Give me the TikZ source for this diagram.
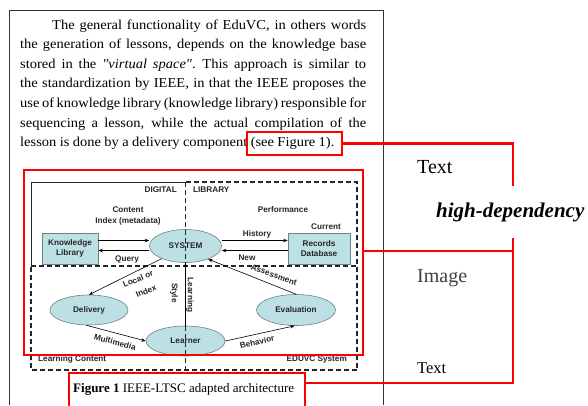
\documentclass[tikz,border=0pt]{standalone}
\usepackage{fontspec}
\setmainfont{Liberation Serif}
\setsansfont{Liberation Sans}
\newfontfamily\bodyfont{Liberation Serif}[FakeStretch=1.065]
\usetikzlibrary{arrows.meta,shapes.geometric,calc}

\definecolor{tealfill}{RGB}{188,224,228}
\definecolor{shapeedge}{RGB}{110,130,132}
\definecolor{markred}{RGB}{255,0,0}

% one justified line of the paragraph
\newcommand{\fullline}[1]{\hbox to 346pt{#1}}

\begin{document}
\begin{tikzpicture}[x=1pt,y=-1pt,
  lbl/.style={font=\fontsize{8.2}{9.5}\selectfont\sffamily\bfseries, text=black!85, inner sep=0pt},
  blob/.style={ellipse, draw=shapeedge, line width=0.6pt, fill=tealfill, inner sep=0pt},
  store/.style={rectangle, draw=shapeedge, line width=0.6pt, fill=tealfill, align=center, inner sep=0pt,
    font=\fontsize{8.2}{10.5}\selectfont\sffamily\bfseries, text=black!85},
  flow/.style={-{Stealth[length=4.5pt,width=3.5pt]}, line width=0.6pt},
  zone/.style={line width=1.2pt, dash pattern=on 5pt off 3pt, black!85},
  zonesolid/.style={line width=1pt, black!85},
  markbox/.style={draw=markred, line width=2.4pt, inner sep=0pt},
  markline/.style={draw=markred, line width=2.4pt},
  bodytext/.style={font=\bodyfont\fontsize{13.6}{19.6}\selectfont, inner sep=0pt},
  sidelabel/.style={inner sep=0pt, anchor=base west},
]
\useasboundingbox (0,0) rectangle (588,405);
\fill[white] (0,0) rectangle (588,405);

% page frame
\draw[line width=1pt, black!80] (9,405) -- (9,10) -- (383,10) -- (383,405);

% paragraph, line by line
\node[bodytext, anchor=base west, text width=346pt] (body) at (20,29) {%
\spaceskip=0.25em plus 0.4em minus 0.12em
\fullline{\hspace*{32pt}The general functionality of EduVC, in others words}
\fullline{the generation of lessons, depends on the knowledge base}
\fullline{stored in the \textit{"virtual space"}. This approach is similar to}
\fullline{the standardization by IEEE, in that the IEEE proposes the}
\fullline{use of knowledge library (knowledge library) responsible for}
\fullline{sequencing a lesson, while the actual compilation of the}
\hbox{lesson is done by a delivery component (see Figure 1).}};

% components
\node[store, minimum width=56pt, minimum height=31pt] (kl) at (70,248.5) {Knowledge\\Library};
\node[store, minimum width=62pt, minimum height=31pt] (rd) at (319,248.5) {Records\\Database};
\node[blob, minimum width=72pt, minimum height=33pt] (sys) at (185.5,246) {};
\node[blob, minimum width=78pt, minimum height=30pt] (del) at (89,310) {};
\node[blob, minimum width=79pt, minimum height=30pt] (lea) at (185.5,341) {};
\node[blob, minimum width=79pt, minimum height=31pt] (eva) at (296,310) {};

\node[lbl] (systxt) at (sys) {SYSTEM};
\node[lbl] (deltxt) at (del) {Delivery};
\node[lbl] (leatxt) at (lea) {Learner};
\node[lbl] (evatxt) at (eva) {Evaluation};

% zone borders
\draw[zonesolid] (185.5,182) -- (31,182) -- (31,266);
\draw[zone] (185.5,182) -- (357,182) -- (357,370) -- (31,370) -- (31,266);
\draw[zone] (31,266) -- (357,266);
\draw[zone] (185.5,182) -- (185.5,370);

% flows
\draw[flow] ([yshift=8pt]kl.east) -- ([yshift=8pt]kl.east -| sys.west);
\draw[flow] ([yshift=-2pt]kl.east -| sys.west) -- ([yshift=-2pt]kl.east);
\draw[flow] ([yshift=8pt]rd.west -| sys.east) -- ([yshift=8pt]rd.west);
\draw[flow] ([yshift=-2pt]rd.west) -- ([yshift=-2pt]rd.west -| sys.east);
\draw[flow] (sys.208) -- (del.north);
\draw[flow] (eva.north) -- (sys.-30);
\draw[flow] (del.-100) -- (lea.west);
\draw[flow] (lea.east) -- (eva.-95);
\draw[flow] (lea.north) -- (sys.south);

% labels
\node[lbl, anchor=base east] (dig) at (177,192) {DIGITAL};
\node[lbl, anchor=base west] (lib) at (193,192) {LIBRARY};
\node[lbl] (content) at (128,210) {Content};
\node[lbl] (index) at (128,221) {Index (metadata)};
\node[lbl] (perf) at (283,210) {Performance};
\node[lbl] (curr) at (326,227) {Current};
\node[lbl] (hist) at (257,234) {History};
\node[lbl] (query) at (127,259) {Query};
\node[lbl] (new) at (247,257.5) {New};
\node[lbl, rotate=-20] (assess) at (274,275) {Assessment};
\node[lbl, rotate=23] (loc) at (138,279) {Local or};
\node[lbl, rotate=23] (idx) at (146,291) {Index};
\node[lbl, rotate=-15] (multi) at (115,342) {Multimedia};
\node[lbl, rotate=13] (behav) at (257,342) {Behavior};
\node[lbl, rotate=-90] (learning) at (190,295) {Learning};
\node[lbl, rotate=-90] (style) at (174,293) {Style};
\node[lbl, anchor=west] (lcont) at (38,359) {Learning Content};
\node[lbl, anchor=east] (esys) at (347,359) {EDUVC System};

% caption
\node[anchor=base west, inner sep=0pt, font=\fontsize{13}{15}\selectfont] (cap) at (73,392)
  {\textbf{Figure 1} IEEE-LTSC adapted architecture};

% highlight boxes
\node[markbox, minimum width=95pt, minimum height=23pt] (seebox) at (294.5,143.5) {};
\node[markbox, minimum width=339pt, minimum height=185pt] (imgbox) at (193.5,262.5) {};
\node[markbox, minimum width=236pt, minimum height=50pt] (capbox) at (187,398) {};

\coordinate (rail) at (513,0);
\coordinate (capjoin) at ([yshift=-11pt]capbox.north east);
\coordinate (imgjoin) at ([yshift=11.5pt]imgbox.east);
\draw[markline] (seebox.east) -| (rail |- capjoin) -- (capjoin);
\draw[markline] (imgjoin) -- (rail |- imgjoin);

% side labels
\node[sidelabel, font=\fontsize{20}{22}\selectfont] (t1) at (417,173) {Text};
\node[sidelabel, fill=white, text height=15pt, text depth=4.5pt, inner ysep=16pt, inner xsep=0pt,
      font=\fontsize{21}{24}\selectfont\bfseries\itshape] (hd) at (436,217) {high-dependency};
\node[sidelabel, font=\fontsize{20}{22}\selectfont, text=black!75] (t2) at (417,282) {Image};
\node[sidelabel, font=\fontsize{16.5}{18}\selectfont] (t3) at (417,373) {Text};
\end{tikzpicture}
\end{document}
